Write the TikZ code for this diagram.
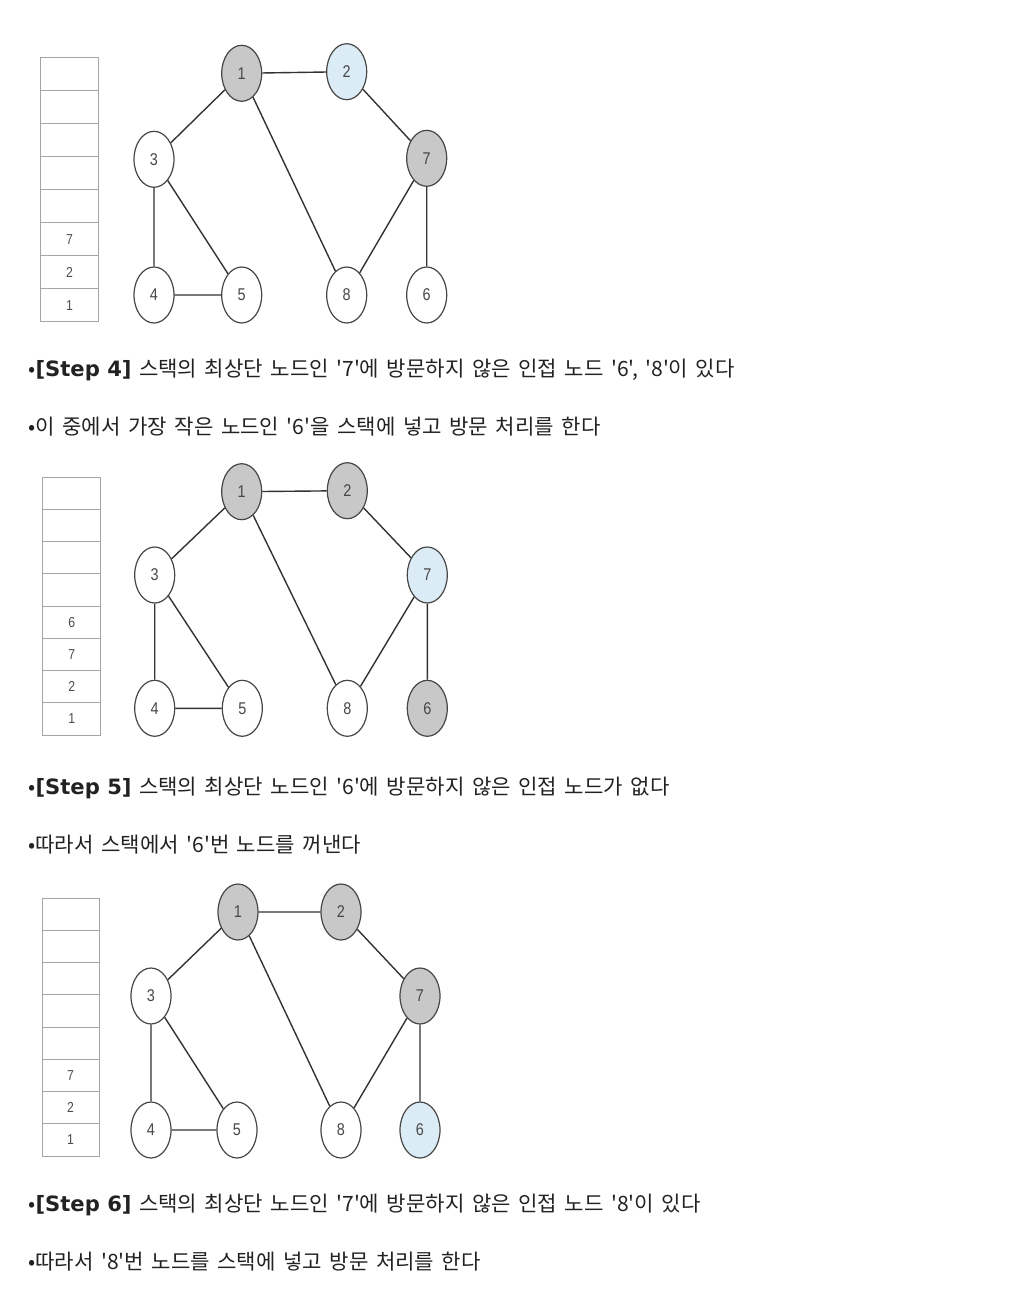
\documentclass[tikz,border=0pt]{standalone}
\usepackage{fontspec}
\setmainfont{Noto Sans CJK KR}[WordSpace=1.6,Ligatures=TeXOff]
\newfontfamily\stepfont{DejaVu Sans}[Ligatures=TeXOff]
\newfontfamily\numfont{Liberation Sans}[FakeStretch=0.85]
\usetikzlibrary{shapes.geometric}
\definecolor{visited}{RGB}{200,200,200}
\definecolor{current}{RGB}{220,236,246}
\definecolor{ringline}{RGB}{70,70,70}
\definecolor{cellline}{RGB}{165,165,165}
\definecolor{inktext}{RGB}{34,34,34}
\tikzset{
  vertex/.style={ellipse,draw=ringline,line width=0.6pt,fill=white,
    minimum width=20pt,minimum height=28pt,inner sep=0pt,
    font=\numfont\fontsize{8.5}{9}\selectfont,text=black!72},
  seen/.style={vertex,fill=visited},
  nowvertex/.style={vertex,fill=current},
  link/.style={draw=black!80,line width=0.7pt},
  cellbox/.style={draw=cellline,line width=0.5pt},
  cellnum/.style={font=\numfont\fontsize{7.2}{8}\selectfont,text=black!70},
  note/.style={anchor=base west,inner sep=0pt,
    font=\fontsize{10.55}{12}\selectfont,text=inktext}
}
\begin{document}
\begin{tikzpicture}[x=0.5pt,y=-0.5pt]
\useasboundingbox (0,0) rectangle (1026,1300);

% step 4
\draw[cellbox] (40.7,57.3) rectangle (98.3,321.7);
\foreach \k in {1,...,7}
  \draw[cellbox] (40.7,57.3+33.05*\k) -- (98.3,57.3+33.05*\k);
\node[cellnum] (sa7) at (69.5,239.1) {7};
\node[cellnum] (sa2) at (69.5,272.2) {2};
\node[cellnum] (sa1) at (69.5,305.2) {1};

\node[seen] (a1) at (241.7,73.3) {1};
\node[nowvertex] (a2) at (346.7,71.7) {2};
\node[vertex] (a3) at (154,159.3) {3};
\node[seen] (a7) at (426.7,158.3) {7};
\node[vertex] (a4) at (154,295) {4};
\node[vertex] (a5) at (241.7,295) {5};
\node[vertex] (a8) at (346.7,295) {8};
\node[vertex] (a6) at (426.7,295) {6};
\draw[link] (a1)--(a2) (a1)--(a3) (a1)--(a8) (a2)--(a7) (a3)--(a4)
  (a3)--(a5) (a4)--(a5) (a7)--(a8) (a7)--(a6);

\node[note] (ta) at (28,376) {•{\stepfont\bfseries[Step 4]} 스택의 최상단 노드인 '7'에 방문하지 않은 인접 노드 '6', '8'이 있다};
\node[note] (tb) at (28,434) {•이 중에서 가장 작은 노드인 '6'을 스택에 넣고 방문 처리를 한다};

% step 5
\draw[cellbox] (42.7,477.3) rectangle (100.7,735);
\foreach \k in {1,...,7}
  \draw[cellbox] (42.7,477.3+32.21*\k) -- (100.7,477.3+32.21*\k);
\node[cellnum] (sb6) at (71.7,622.3) {6};
\node[cellnum] (sb7) at (71.7,654.5) {7};
\node[cellnum] (sb2) at (71.7,686.7) {2};
\node[cellnum] (sb1) at (71.7,718.9) {1};

\node[seen] (b1) at (241.7,491.7) {1};
\node[seen] (b2) at (347.3,490.7) {2};
\node[vertex] (b3) at (154.7,575) {3};
\node[nowvertex] (b7) at (427.3,575) {7};
\node[vertex] (b4) at (154.7,708.3) {4};
\node[vertex] (b5) at (242.3,708.3) {5};
\node[vertex] (b8) at (347.3,708.3) {8};
\node[seen] (b6) at (427.3,708.3) {6};
\draw[link] (b1)--(b2) (b1)--(b3) (b1)--(b8) (b2)--(b7) (b3)--(b4)
  (b3)--(b5) (b4)--(b5) (b7)--(b8) (b7)--(b6);

\node[note] (tc) at (28,794) {•{\stepfont\bfseries[Step 5]} 스택의 최상단 노드인 '6'에 방문하지 않은 인접 노드가 없다};
\node[note] (td) at (28,852) {•따라서 스택에서 '6'번 노드를 꺼낸다};

% step 6
\draw[cellbox] (42,898) rectangle (99,1156);
\foreach \k in {1,...,7}
  \draw[cellbox] (42,898+32.25*\k) -- (99,898+32.25*\k);
\node[cellnum] (sc7) at (70.5,1075.4) {7};
\node[cellnum] (sc2) at (70.5,1107.6) {2};
\node[cellnum] (sc1) at (70.5,1139.9) {1};

\node[seen] (c1) at (238,912) {1};
\node[seen] (c2) at (341,912) {2};
\node[vertex] (c3) at (151,996) {3};
\node[seen] (c7) at (420,996) {7};
\node[vertex] (c4) at (151,1130) {4};
\node[vertex] (c5) at (237,1130) {5};
\node[vertex] (c8) at (341,1130) {8};
\node[nowvertex] (c6) at (420,1130) {6};
\draw[link] (c1)--(c2) (c1)--(c3) (c1)--(c8) (c2)--(c7) (c3)--(c4)
  (c3)--(c5) (c4)--(c5) (c7)--(c8) (c7)--(c6);

\node[note] (te) at (28,1211) {•{\stepfont\bfseries[Step 6]} 스택의 최상단 노드인 '7'에 방문하지 않은 인접 노드 '8'이 있다};
\node[note] (tf) at (28,1269) {•따라서 '8'번 노드를 스택에 넣고 방문 처리를 한다};
\end{tikzpicture}
\end{document}
